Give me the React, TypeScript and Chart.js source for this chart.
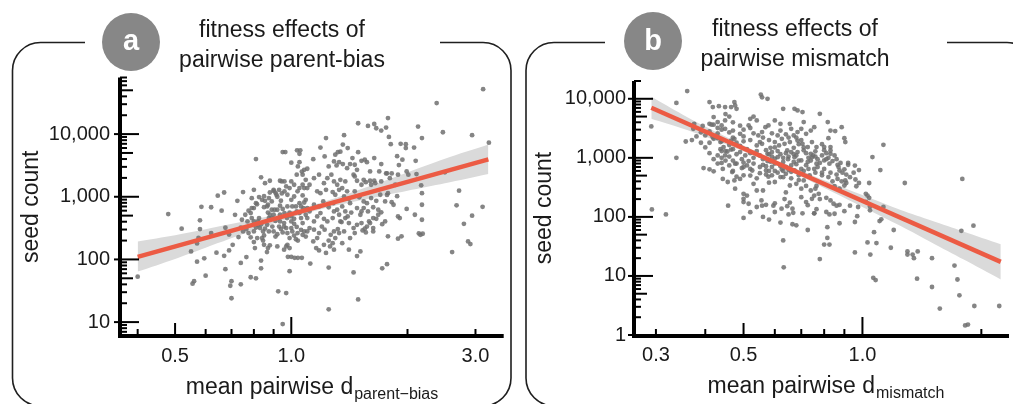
import React, { useEffect, useRef } from 'react';
import { Chart, registerables } from 'chart.js';

Chart.register(...registerables);

const FONT = '"Liberation Sans", Arial, Helvetica, sans-serif';
const INK = '#1a1a1a';

// ---------- Panel a: parent-bias ----------
const panelAPoints: [number, number][] = [
  [0.40,53],[0.48,530],[0.52,310],[0.55,134],[0.56,45],[0.555,41],[0.57,92],[0.58,420],[0.58,305],[0.585,690],[0.575,220],[0.57,180],[0.595,104],[0.60,55],[0.62,680],[0.62,263],[0.64,128],[0.645,1040],[0.66,600],[0.67,1170],[0.675,320],[0.67,114],[0.675,70],[0.69,139],[0.69,250],[0.70,45],[0.695,38],[0.70,24],[0.705,171],[0.715,515],[0.725,860],[0.73,227],[0.74,88],[0.74,40],[0.75,1190],[0.765,109],[0.765,305],[0.77,404],[0.785,52],[0.79,950],[0.79,660],[0.80,1290],[0.80,189],[0.805,152],[0.81,4000],[0.81,50],[0.81,790],[0.82,357],[0.825,457],[0.835,72],[0.835,2040],[0.835,96],[0.84,219],[0.85,683],[0.85,171],[0.845,200],[0.855,1650],[0.865,131],[0.87,745],[0.88,1800],[0.88,1170],[0.90,1290],[0.905,620],[0.915,1080],[0.92,161],[0.935,404],[0.94,863],[0.945,1760],[0.95,5160],[0.965,5160],[0.95,9.3],[0.925,31],[0.97,29],[0.99,65],[0.98,110],[1.0,110],[1.02,106],[1.04,106],[1.065,106],[1.0,3500],[1.035,5500],[1.05,4850],[1.055,5500],[1.05,3570],[1.04,3050],[1.065,2520],[1.08,2690],[1.1,2800],
  [0.80,660],[0.815,760],[0.825,990],[0.84,895],[0.85,1020],[0.866,700],[0.87,560],[0.88,516],[0.875,457],[0.89,842],[0.90,1240],[0.91,1160],[0.92,1000],[0.935,720],[0.95,640],[0.96,550],[0.975,457],[0.99,560],[1.0,485],[1.017,445],[1.033,583],[1.05,790],[1.06,700],[1.075,660],[1.10,660],[1.08,810],[1.09,895],[1.07,1050],[1.08,1375],[1.10,1375],[1.115,1555],[1.09,1860],[1.07,2250],[1.033,2250],[1.0,1760],[1.017,1555],[0.99,1375],[0.97,1460],[0.96,1220],[0.96,1760],[0.935,1800],
  [0.83,316],[0.845,280],[0.85,242],[0.80,280],[0.816,219],[0.866,357],[0.875,280],[0.893,335],[0.90,280],[0.91,232],[0.92,252],[0.94,305],[0.95,270],[0.958,380],[0.97,316],[0.977,263],[0.99,219],[1.0,316],[1.006,280],[1.017,240],[1.028,210],[1.038,263],[1.04,200],[1.06,296],[1.07,247],[1.08,280],[1.09,232],[1.10,280],[1.115,316],[1.07,380],[1.017,370],[1.033,330],[0.977,171],[0.99,152],[0.97,161],[0.958,143],[0.87,152],[0.88,168],
  [0.76,516],[0.775,600],[0.785,550],[0.79,457],[0.80,404],[0.745,430],[0.74,320],[0.75,280],[0.775,263],[0.785,225],[0.81,322],[0.82,404],[0.835,365],[0.855,310],[0.89,457],[0.90,516],[0.91,412],[0.925,457],[0.935,516],[0.92,620],[0.89,620],[0.875,952],[0.855,860],[0.93,1290],[0.945,1130],[0.977,1076],[1.0,895],[1.017,1010],[1.038,1220],[1.05,1375],[1.07,1555],[0.977,700],[1.006,700],[1.028,700],[1.05,550],[1.09,516],[1.115,583],[1.10,457],[1.06,457],[1.0,404],[0.958,335],[0.93,335],
  [3.14,52000],[2.38,31300],[1.78,18000],[1.49,14900],[1.58,13500],[1.64,14500],[1.66,12400],[1.71,11400],[1.76,12700],[2.13,13200],[2.47,10700],[2.94,9600],[1.37,9600],[1.23,8650],[1.79,9000],[2.18,8650],[1.81,6900],[1.92,7000],[1.98,6900],[1.98,5980],[2.08,6100],[3.25,7300],[1.36,6800],[1.40,5980],[1.19,6100],[1.49,5150],[1.32,5150],[1.34,5250],[1.30,4700],[1.14,3980],[1.88,4450],[1.90,3200],[1.94,3900],[2.10,3740],[2.50,2450],[2.72,1250],[2.68,730],[3.13,690],[2.94,500],[2.80,370],[2.87,194],[2.91,176],[2.61,131],[2.17,1520],[2.18,1140],[2.18,745],[2.18,430],[2.09,516],[2.14,260],[2.19,257],[2.16,247],[1.99,640],[1.89,214],[1.93,234],[1.78,234],[1.89,485],[1.91,457],[1.82,820],[1.88,1020],[1.77,1070],[1.71,565],[1.72,365],[1.68,516],[1.66,445],[1.63,457],[1.59,404],[1.63,280],[1.63,316],[1.55,310],[1.56,270],[1.53,290],[1.72,72],[1.77,84],[1.45,62],[1.49,23],[1.25,16],[1.25,74],[1.41,143],[1.48,113],[1.51,134],[1.12,86],[1.18,139],[1.23,127],[1.26,161],[1.28,182],[1.25,200],[1.33,263],[1.32,305],[1.35,395],[1.40,485],[1.43,560],[1.52,583],[1.54,660],
  [1.22,4400],[1.25,3050],[1.29,3660],[1.31,3160],[1.33,3570],[1.36,3320],[1.395,2860],[1.42,3320],[1.44,4140],[1.46,3240],[1.48,2690],[1.52,3740],[1.55,3900],[1.57,3570],[1.60,2540],[1.64,4140],[1.69,2540],[1.71,3320],[1.76,2360],[1.82,2360],
  [1.145,1980],[1.18,2250],[1.215,1650],[1.24,1980],[1.27,2250],[1.29,1760],[1.315,1555],[1.34,1860],[1.355,1375],[1.38,1760],[1.395,1220],[1.45,2250],[1.46,2110],[1.48,1800],[1.52,1555],[1.54,1860],[1.56,1710],[1.60,1800],[1.61,1555],[1.64,1800],[1.65,1650],[1.71,1760],[1.77,2370],[1.80,1980],[1.86,1555],[1.89,2250],[1.99,2540],[2.01,2250],[2.11,2300],
  [1.167,1220],[1.19,1140],[1.23,1290],[1.28,1190],[1.30,1076],[1.33,1290],[1.37,1010],[1.41,930],[1.42,790],[1.46,1220],[1.50,980],[1.54,842],[1.57,790],[1.61,952],[1.66,860],[1.70,1076],[1.75,842],[1.78,1140],[1.84,745],
  [1.145,745],[1.18,700],[1.21,842],[1.25,680],[1.285,790],[1.315,620],[1.355,700],[1.38,583],[1.48,660],[1.51,516],[1.58,583],[1.63,680],[1.68,620],
  [1.145,404],[1.167,485],[1.19,550],[1.215,445],[1.24,404],[1.28,457],[1.29,583],[1.33,516],[1.34,404],[1.38,457],[1.41,380],[1.45,316],[1.48,357],[1.52,380],[1.57,335],[1.60,380],[1.145,298],[1.18,263],[1.20,335],[1.22,298],[1.265,247],[1.29,280],[1.30,219],[1.167,219],[1.14,194],[1.215,171],[1.16,152],[1.29,143],[1.355,182],[1.37,280],[1.42,219],[1.46,263],[1.75,404],
];
const fitAX = [0.40, 3.24];
const fitAY = [110, 3950];
const bandAX = [0.40, 0.5, 0.6, 0.8, 1.0, 1.2, 1.5, 2.0, 2.5, 3.24];
const bandAUpper = [194, 244, 304, 436, 592, 812, 1293, 2443, 4035, 6800];
const bandALower = [64, 102, 154, 291, 465, 639, 869, 1246, 1637, 2300];
const xTickLabelsA = [0.5, 1, 3];
const xTickMarksA = [0.4, 0.5, 0.6, 0.7, 0.8, 0.9, 1, 2, 3];
const yTickLabelsA = [10, 100, 1000, 10000];

// ---------- Panel b: mismatch ----------
const panelBPoints: [number, number][] = [
  [0.292,3400],[0.293,134],[0.318,110],[0.338,8500],[0.36,13500],[0.357,1890],[0.338,1000],[0.375,3770],[0.373,3100],[0.394,3460],[0.41,8780],[0.418,7230],[0.42,4900],[0.396,670],[0.41,640],[0.41,1200],[0.42,590],[0.41,3770],[0.415,3650],[0.42,3650],[0.43,4030],[0.41,2800],[0.415,2450],[0.42,2100],[0.43,2230],[0.41,1800],[0.418,2230],[0.433,7500],[0.449,7230],[0.449,4300],[0.44,3530],[0.449,3100],[0.46,2690],[0.43,2150],[0.437,1850],[0.445,1520],[0.43,1100],[0.44,820],[0.449,1100],[0.455,1280],[0.437,1400],[0.443,650],[0.443,440],[0.456,390],[0.457,155],[0.465,1380],[0.474,8780],[0.476,7710],[0.465,7230],[0.48,6770],[0.465,1960],[0.474,2100],[0.49,2550],[0.46,745],[0.468,575],[0.476,795],[0.474,414],[0.49,440],[0.5,505],[0.476,300],[0.5,246],[0.5,202],[0.5,178],[0.5,96],[0.49,1250],[0.495,950],[0.505,1100],[0.5,830],[0.51,745],[0.515,880],[0.526,610],[0.495,670],[0.515,3540],[0.52,4580],[0.53,5000],[0.54,4300],[0.553,11800],[0.557,10600],[0.575,10000],[0.51,230],[0.515,167],[0.53,363],[0.54,280],[0.54,147],[0.555,190],[0.557,155],[0.56,280],[0.578,480],[0.575,880],[0.57,610],[0.58,380],[0.54,1620],[0.55,1845],[0.557,1730],[0.545,2400],[0.557,2730],[0.568,3300],[0.578,3540],[0.585,1480],[0.59,1250],[0.6,970],[0.575,1170],[0.585,860],[0.6,4300],[0.62,3770],[0.63,6770],[0.66,3100],[0.655,3770],[0.6,1845],[0.615,1620],[0.625,2100],[0.635,1730],[0.645,1330],[0.655,1845],[0.61,1025],[0.63,850],[0.648,950],[0.66,745],[0.673,1025],[0.67,1480],[0.59,505],[0.6,390],[0.62,472],[0.625,635],[0.64,537],[0.655,340],[0.64,260],[0.635,200],[0.595,155],[0.6,121],[0.624,138],[0.655,175],[0.665,138],[0.668,117],[0.645,152],[0.63,40],[0.632,14],[0.665,75],[0.68,72],[0.727,60],[0.673,6770],[0.685,6350],[0.705,5950],[0.71,4030],[0.685,2730],[0.7,3100],[0.72,2550],[0.74,2900],[0.755,3300],[0.685,1960],[0.705,1730],[0.727,1520],[0.745,1845],[0.765,1520],[0.673,610],[0.69,505],[0.71,414],[0.735,505],[0.755,650],[0.68,363],[0.7,300],[0.72,335],[0.74,280],[0.765,335],[0.7,216],[0.72,178],[0.745,202],[0.755,115],[0.705,115],[0.727,158],[0.68,780],[0.7,905],[0.727,850],[0.745,1020],[0.765,795],[0.685,1250],[0.71,1340],[0.74,1170],[0.76,1290],
  [0.44,1900],[0.46,1650],[0.47,1400],[0.48,1150],[0.49,1600],[0.50,1900],[0.51,1400],[0.52,1200],[0.53,1000],[0.54,1300],[0.55,1100],[0.56,950],[0.57,1350],[0.58,1150],[0.59,1050],[0.60,1500],[0.61,1300],[0.62,1150],[0.63,1000],[0.64,1200],[0.65,1050],[0.66,1250],[0.67,1150],[0.50,700],[0.52,650],[0.53,800],[0.55,700],[0.56,760],[0.57,720],[0.59,700],[0.60,800],[0.62,720],[0.63,600],[0.64,700],[0.65,620],[0.66,580],[0.67,850],[0.47,900],[0.48,800],[0.46,1050],[0.45,1300],[0.44,1000],[0.47,2200],[0.48,1800],[0.50,2300],[0.52,2000],[0.53,2600],[0.50,3000],[0.49,3500],[0.52,3200],[0.56,2200],[0.58,2000],[0.59,2600],[0.61,2400],[0.62,2900],[0.64,2500],[0.65,2200],[0.67,2400],[0.68,2200],[0.69,1700],[0.70,2000],[0.71,1500],[0.72,1200],[0.73,1000],[0.74,900],[0.75,1100],[0.72,750],[0.73,650],[0.70,650],[0.69,900],[0.68,1100],[0.47,4000],[0.46,5000],[0.45,5500],[0.47,2900],[0.43,2600],[0.44,1300],[0.45,900],[0.43,800],[0.42,950],[0.40,1500],[0.39,1800],[0.38,2300],[0.37,2000],[0.39,2700],[0.40,2400],[0.43,3200],[0.44,3000],[0.54,450],[0.55,550],[0.57,520],[0.60,600],[0.61,560],[0.63,470],[0.66,450],[0.69,420],[0.71,600],[0.76,560],[0.77,700],[0.77,950],[0.76,1050],[0.58,600],[0.52,500],[0.47,600],[0.48,480],[0.52,120],[0.56,100],[0.58,90],[0.62,80],[0.65,110],[0.60,170],[0.57,160],
  [0.78,5570],[0.817,4030],[0.886,3300],[0.853,2840],[0.83,2900],[0.90,2150],[0.905,1845],[0.82,2150],[0.80,1520],[0.83,1520],[0.83,1330],[0.83,1170],[0.79,1100],[0.80,905],[0.81,950],[0.825,795],[0.865,760],[0.875,610],[0.92,820],[0.92,760],[0.957,740],[0.98,620],[1.13,1660],[1.06,1030],[1.11,620],[1.28,375],[1.79,440],[0.865,440],[0.886,400],[0.905,414],[0.91,375],[0.90,340],[0.965,330],[0.98,375],[1.04,375],[0.79,505],[0.82,472],[0.84,400],[0.85,330],[0.875,300],[0.76,300],[0.775,246],[0.755,230],[0.78,200],[0.81,210],[0.83,190],[0.845,167],[0.875,160],[0.90,125],[0.93,155],[1.02,246],[1.03,230],[1.04,210],[1.02,180],[0.975,147],[0.97,103],[0.957,82],[1.13,147],[1.045,129],[1.045,150],[1.116,91],[1.105,85],[1.07,55],[1.085,36],[1.047,23],[1.03,37],[0.957,25],[1.18,30],[1.2,60],[1.30,26],[1.30,23],[1.34,23],[1.35,20],[1.38,26],[1.065,9.3],[1.08,8.5],[1.375,9],[1.5,20],[1.5,6.5],[1.57,2.8],[1.71,15],[1.74,8.7],[1.76,4.7],[1.78,58],[1.91,71],[1.92,3.1],[2.22,3.1],[1.82,1.45],[1.85,1.5],[0.78,19.3],[0.80,34],[0.825,34],[0.815,44],[0.815,67],[0.755,115],[0.765,135],[0.81,121],[0.825,110],[0.85,113],[0.86,155],[0.875,78],
  [0.79,1700],[0.80,1350],[0.81,1200],[0.82,1000],[0.84,880],[0.85,1100],[0.86,950],[0.87,700],[0.88,820],[0.89,560],[0.90,640],[0.91,520],[0.93,470],[0.95,560],[0.96,430],[0.78,820],[0.80,650],[0.79,560],[0.83,560],[0.86,520],
];
const fitBX = [0.292, 2.24];
const fitBY = [7050, 17.3];
const bandBX = [0.292, 0.35, 0.4, 0.5, 0.6, 0.7, 0.85, 1.0, 1.25, 1.5, 1.8, 2.24];
const bandBUpper = [10800, 5430, 3390, 1620, 927, 601, 358, 235, 131, 86, 56.8, 34.5];
const bandBLower = [4590, 3140, 2290, 1283, 763, 476, 253, 147, 70, 36.5, 19.1, 8.7];
const xTickLabelsB = [0.3, 0.5, 1];
const xTickMarksB = [0.3, 0.4, 0.5, 0.6, 0.7, 0.8, 0.9, 1, 2];
const yTickLabelsB = [1, 10, 100, 1000, 10000];

const pts = (xs: number[], ys: number[]) => xs.map((x, i) => ({ x, y: ys[i] }));

const decoPlugin = {
  id: 'deco',
  beforeDraw(chart: any, _a: any, o: any) {
    const ctx = chart.ctx;
    ctx.save();
    const b = o.box;
    ctx.beginPath();
    ctx.moveTo(b.gapStart, b.top);
    ctx.lineTo(b.left + b.r, b.top);
    ctx.arcTo(b.left, b.top, b.left, b.top + b.r, b.r);
    ctx.lineTo(b.left, b.bottom - b.r);
    ctx.arcTo(b.left, b.bottom, b.left + b.r, b.bottom, b.r);
    ctx.lineTo(b.right - b.r, b.bottom);
    ctx.arcTo(b.right, b.bottom, b.right, b.bottom - b.r, b.r);
    ctx.lineTo(b.right, b.top + b.r);
    ctx.arcTo(b.right, b.top, b.right - b.r, b.top, b.r);
    ctx.lineTo(b.gapEnd, b.top);
    ctx.lineWidth = 1.6;
    ctx.strokeStyle = '#1f1f1f';
    ctx.stroke();
    // badge
    ctx.beginPath();
    ctx.arc(o.badge.cx, o.badge.cy, o.badge.r, 0, Math.PI * 2);
    ctx.fillStyle = '#878787';
    ctx.fill();
    ctx.fillStyle = '#ffffff';
    ctx.font = `bold 29px ${FONT}`;
    ctx.textAlign = 'center';
    ctx.textBaseline = 'alphabetic';
    ctx.fillText(o.badge.letter, o.badge.cx, o.badge.baseline);
    // title
    ctx.fillStyle = INK;
    ctx.font = `23px ${FONT}`;
    ctx.fillText(o.title[0], o.titleX, o.titleY[0]);
    ctx.fillText(o.title[1], o.titleX, o.titleY[1]);
    ctx.restore();
  },
  afterDraw(chart: any, _a: any, o: any) {
    const { ctx, chartArea } = chart;
    const xs = chart.scales.x;
    const ys = chart.scales.y;
    const ax = chartArea.left + o.axisDX;
    const ay = chartArea.bottom + o.axisDY;
    ctx.save();
    ctx.strokeStyle = '#000';
    ctx.lineWidth = 2;
    const lo = Math.floor(Math.log10(ys.min));
    const hi = Math.ceil(Math.log10(ys.max));
    for (let e = lo; e <= hi; e++) {
      for (let m = 1; m <= 9; m++) {
        const v = m * Math.pow(10, e);
        if (v < ys.min * 0.999 || v > ys.max * 1.001) continue;
        const py = ys.getPixelForValue(v);
        let x0 = ax;
        let x1 = ax + 7;
        if (m === 1) { x0 = ax - 6; x1 = ax + 19; } else if (m === 5) { x1 = ax + 13; }
        ctx.beginPath();
        ctx.moveTo(x0, py);
        ctx.lineTo(x1, py);
        ctx.stroke();
      }
    }
    for (const v of o.xTicks) {
      const px = xs.getPixelForValue(v);
      const len = v === 1 ? 19 : v === 0.5 ? 13 : 7;
      ctx.beginPath();
      ctx.moveTo(px, ay);
      ctx.lineTo(px, ay - len);
      ctx.stroke();
    }
    ctx.lineWidth = 4;
    ctx.beginPath();
    ctx.moveTo(ax, ys.getPixelForValue(ys.max));
    ctx.lineTo(ax, ay + 2);
    ctx.stroke();
    ctx.beginPath();
    ctx.moveTo(ax - 2, ay);
    ctx.lineTo(chartArea.right, ay);
    ctx.stroke();
    // x title with subscript
    const main = 'mean pairwise d';
    ctx.fillStyle = INK;
    ctx.textBaseline = 'alphabetic';
    ctx.textAlign = 'left';
    ctx.font = `23px ${FONT}`;
    const w1 = ctx.measureText(main).width;
    ctx.font = `16px ${FONT}`;
    const w2 = ctx.measureText(o.sub).width;
    const start = o.xTitleX - (w1 + 1 + w2) / 2;
    ctx.font = `23px ${FONT}`;
    ctx.fillText(main, start, o.xTitleY);
    ctx.font = `16px ${FONT}`;
    ctx.fillText(o.sub, start + w1 + 1, o.xTitleY + 5);
    ctx.restore();
  },
};

function makeConfig(p: any): any {
  return {
    type: 'scatter',
    data: {
      datasets: [
        { type: 'line', data: pts(p.bandX, p.bandU), borderWidth: 0, pointRadius: 0, fill: '+1', backgroundColor: '#dadada', order: 3, tension: 0.3 },
        { type: 'line', data: pts(p.bandX, p.bandL), borderWidth: 0, pointRadius: 0, fill: false, order: 3, tension: 0.3 },
        { type: 'scatter', data: p.points.map(([x, y]: [number, number]) => ({ x, y })), pointRadius: 2.4, pointBorderWidth: 0, pointBackgroundColor: 'rgba(112,112,112,0.85)', order: 2 },
        { type: 'line', data: pts(p.fitX, p.fitY), borderColor: '#ec5b44', borderWidth: 4.5, pointRadius: 0, fill: false, order: 1, borderCapStyle: 'butt' },
      ],
    },
    options: {
      animation: false,
      responsive: false,
      devicePixelRatio: 1,
      events: [],
      layout: { padding: p.padding },
      plugins: {
        legend: { display: false },
        tooltip: { enabled: false },
        deco: p.deco,
      },
      scales: {
        x: {
          type: 'logarithmic', position: 'bottom', min: p.xMin, max: p.xMax, bounds: 'data',
          grid: { display: false, drawTicks: false }, border: { display: false },
          ticks: { autoSkip: false, maxRotation: 0, padding: p.xTickPad, color: INK, font: { family: FONT, size: 20 }, callback: (v: number) => Number(v).toFixed(1) },
          afterBuildTicks: (s: any) => { s.ticks = p.xLabels.map((v: number) => ({ value: v })); },
          afterFit: (s: any) => { s.height = p.xHeight; },
        },
        y: {
          type: 'logarithmic', position: 'left', min: p.yMin, max: p.yMax, bounds: 'data',
          grid: { display: false, drawTicks: false }, border: { display: false },
          ticks: { autoSkip: false, padding: p.yTickPad, color: INK, font: { family: FONT, size: 20 }, callback: (v: number) => Number(v).toLocaleString('en-US') },
          afterBuildTicks: (s: any) => { s.ticks = p.yLabels.map((v: number) => ({ value: v })); },
          afterFit: (s: any) => { s.width = p.yWidth; },
          title: { display: true, text: 'seed count', color: INK, font: { family: FONT, size: 23 }, padding: { top: p.yTitlePad, bottom: 0 } },
        },
      },
    },
    plugins: [decoPlugin],
  };
}

const configA = () => makeConfig({
  points: panelAPoints, fitX: fitAX, fitY: fitAY, bandX: bandAX, bandU: bandAUpper, bandL: bandALower,
  xMin: 0.36, xMax: 3.55, yMin: 6, yMax: 80000, xLabels: xTickLabelsA, yLabels: yTickLabelsA,
  padding: { left: 0, right: 1013 - 503.7, top: 77.5, bottom: 0 }, xHeight: 68, yWidth: 120,
  xTickPad: 8, yTickPad: 10, yTitlePad: 18,
  deco: {
    box: { left: 12.5, top: 42.5, right: 511, bottom: 406, r: 28, gapStart: 85, gapEnd: 440 },
    badge: { cx: 131, cy: 42, r: 29, letter: 'a', baseline: 50 },
    title: ['fitness effects of', 'pairwise parent-bias'], titleX: 282, titleY: [37, 67],
    xTicks: xTickMarksA, axisDX: 0, axisDY: 0, sub: 'parent\u2212bias', xTitleX: 312, xTitleY: 394,
  },
});

const configB = () => makeConfig({
  points: panelBPoints, fitX: fitBX, fitY: fitBY, bandX: bandBX, bandU: bandBUpper, bandL: bandBLower,
  xMin: 0.264, xMax: 2.35, yMin: 1, yMax: 20000, xLabels: xTickLabelsB, yLabels: yTickLabelsB,
  padding: { left: 512, right: 1, top: 81, bottom: 0 }, xHeight: 69, yWidth: 122,
  xTickPad: 8, yTickPad: 8, yTitlePad: 19,
  deco: {
    box: { left: 526, top: 42.5, right: 1035, bottom: 406, r: 28, gapStart: 605, gapEnd: 947 },
    badge: { cx: 653, cy: 41, r: 29, letter: 'b', baseline: 50 },
    title: ['fitness effects of', 'pairwise mismatch'], titleX: 795, titleY: [36, 66],
    xTicks: xTickMarksB, axisDX: 0, axisDY: 1, sub: 'mismatch', xTitleX: 826, xTitleY: 393,
  },
});

function ChartCanvas({ make }: { make: () => any }) {
  const ref = useRef<HTMLCanvasElement | null>(null);
  useEffect(() => {
    if (!ref.current) return;
    const chart = new Chart(ref.current, make());
    return () => chart.destroy();
  }, [make]);
  return <canvas ref={ref} width={1013} height={404} style={{ position: 'absolute', left: 0, top: 0, width: 1013, height: 404 }} />;
}

export default function App() {
  return (
    <div style={{ position: 'absolute', left: 0, top: 0, width: 1013, height: 404, background: '#ffffff', overflow: 'hidden' }}>
      <ChartCanvas make={configA} />
      <ChartCanvas make={configB} />
    </div>
  );
}
